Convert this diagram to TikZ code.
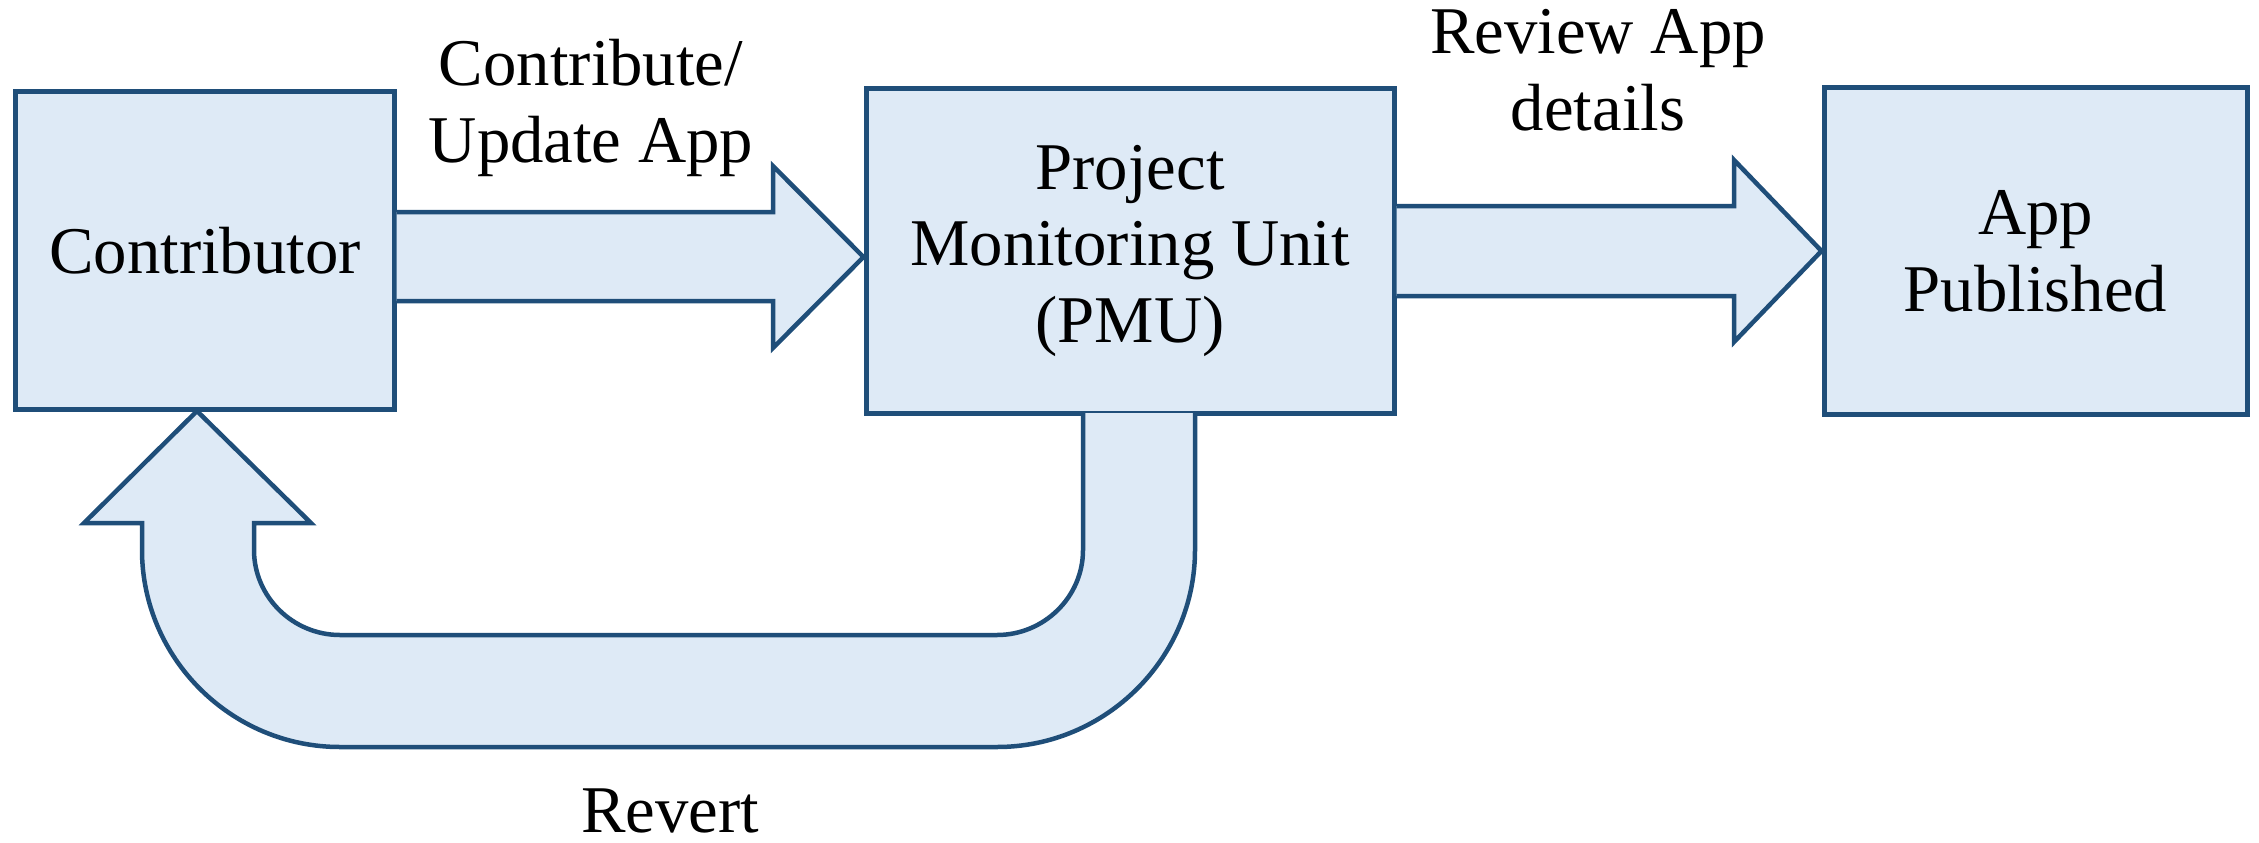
\documentclass[tikz,border=0pt]{standalone}
\usepackage{fontspec}
\setmainfont{Liberation Serif}
\definecolor{edge}{RGB}{31,78,121}
\definecolor{boxfill}{RGB}{222,234,246}
\tikzset{
  box/.style={draw=edge, fill=boxfill, line width=5bp, rectangle, inner sep=0pt, align=center,
    font=\fontsize{67}{77}\selectfont},
  blockarrow/.style={draw=edge, fill=boxfill, line width=4.5bp, line join=miter},
  lbl/.style={inner sep=0pt, align=center, font=\fontsize{67}{77}\selectfont}
}
\begin{document}
\begin{tikzpicture}[x=1bp,y=-1bp]
\useasboundingbox (0,0) rectangle (2259,842);
% boxes
\node[box, minimum width=378bp, minimum height=317bp] (contrib) at (205,250.5) {Contributor};
\node[box, minimum width=528bp, minimum height=324bp] (pmu) at (1130,251) {Project\\Monitoring Unit\\(PMU)};
\node[box, minimum width=423bp, minimum height=326bp] (pub) at (2035.5,251) {App\\Published};
% arrow contributor -> PMU
\draw[blockarrow] (contrib.east |- 0,212) -- (773,212) -- (773,166) -- (pmu.west |- 0,257)
  -- (773,348) -- (773,301) -- (contrib.east |- 0,301);
% arrow PMU -> published
\draw[blockarrow] (pmu.east |- 0,206) -- (1734,206) -- (1734,160) -- (pub.west |- 0,251)
  -- (1734,342) -- (1734,296) -- (pmu.east |- 0,296);
% U-shaped revert arrow PMU -> contributor
\coordinate (tip) at (197,411);
\draw[blockarrow] (1083,413) -- (1083,550)
  .. controls (1083,597) and (1044,635) .. (997,635)
  -- (340,635)
  .. controls (293,635) and (254,597) .. (254,550)
  -- (254,523) -- (311,523) -- (tip) -- (84,523) -- (142,523) -- (142,550)
  .. controls (142,658) and (231,747) .. (340,747)
  -- (997,747)
  .. controls (1106,747) and (1195,658) .. (1195,550)
  -- (1195,413);
% labels
\node[lbl, anchor=base] (l1) at (591,162) {Contribute/\\Update App};
\node[lbl, anchor=base] (l2) at (1598,130) {Review App\\details};
\node[lbl, anchor=base] (l3) at (670,832) {Revert};
\end{tikzpicture}
\end{document}
